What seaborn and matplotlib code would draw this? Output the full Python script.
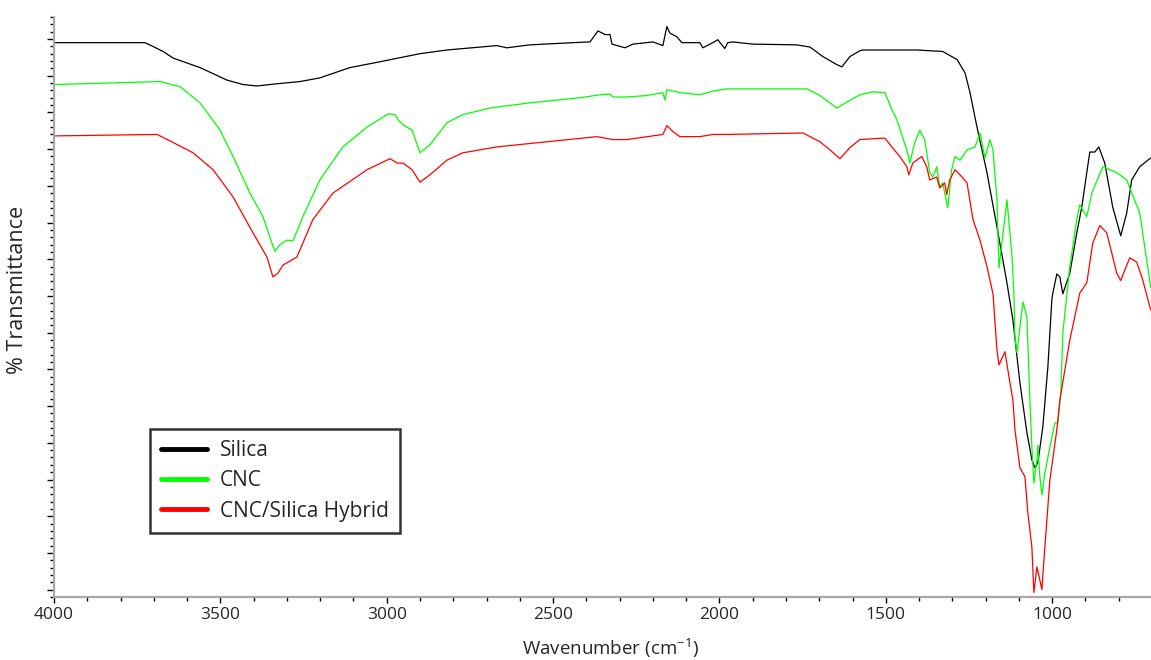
import pandas as pd
import seaborn as sns
import matplotlib.pyplot as plt
from matplotlib.ticker import MultipleLocator

# FTIR spectra (wavenumber in cm-1, transmittance in arbitrary %)
silica_wn = [3997, 3727, 3712, 3672, 3642, 3561, 3480, 3432, 3390, 3330, 3261, 3201, 3111, 3020,
             2900, 2819, 2669, 2639, 2570, 2440, 2389, 2365, 2344, 2329, 2323, 2284, 2260, 2200,
             2170, 2158, 2149, 2128, 2113, 2059, 2050, 2020, 2005, 1984, 1975, 1960, 1900, 1767,
             1728, 1689, 1647, 1632, 1608, 1578, 1569, 1407, 1329, 1286, 1262, 1247, 1226, 1196,
             1166, 1136, 1118, 1097, 1076, 1061, 1052, 1043, 1028, 1013, 1001, 998, 986, 977,
             968, 947, 926, 911, 887, 872, 860, 842, 818, 794, 776, 761, 737, 704]
silica_t = [74.5, 74.5, 74.2, 73.3, 72.4, 71.1, 69.4, 68.8, 68.6, 68.9, 69.2, 69.7, 71.1, 71.9,
            73.0, 73.5, 74.1, 73.8, 74.2, 74.5, 74.6, 76.1, 75.6, 75.6, 74.3, 73.8, 74.3, 74.6,
            74.1, 76.7, 75.8, 75.3, 74.5, 74.5, 73.8, 74.5, 74.9, 73.7, 74.5, 74.6, 74.3, 74.2,
            73.9, 72.6, 71.5, 71.2, 72.6, 73.4, 73.5, 73.5, 73.3, 72.2, 70.4, 67.7, 63.0, 56.8,
            49.4, 41.8, 36.7, 28.2, 21.4, 17.7, 16.6, 17.3, 22.2, 30.3, 39.5, 40.4, 43.0, 42.6,
            40.3, 43.1, 48.6, 52.1, 59.6, 59.6, 60.3, 58.1, 52.1, 48.2, 51.3, 55.8, 57.6, 58.8]

cnc_wn = [3997, 3681, 3621, 3561, 3501, 3462, 3411, 3372, 3345, 3336, 3321, 3300, 3282, 3252,
          3201, 3132, 3059, 2996, 2975, 2966, 2951, 2924, 2900, 2870, 2819, 2771, 2690, 2570,
          2419, 2359, 2329, 2320, 2278, 2218, 2170, 2164, 2158, 2119, 2059, 2020, 1978, 1737,
          1698, 1668, 1647, 1617, 1578, 1539, 1503, 1482, 1467, 1437, 1428, 1413, 1398, 1383,
          1368, 1359, 1347, 1338, 1329, 1317, 1314, 1302, 1292, 1277, 1256, 1232, 1217, 1202,
          1187, 1178, 1166, 1160, 1136, 1121, 1115, 1112, 1106, 1088, 1076, 1067, 1061, 1055,
          1046, 1043, 1037, 1031, 1022, 1007, 992, 983, 974, 968, 947, 926, 917, 896, 881, 848,
          806, 776, 737, 704]
cnc_t = [68.8, 69.2, 68.5, 66.3, 62.6, 59.0, 54.0, 50.8, 47.2, 46.1, 47.0, 47.6, 47.5, 50.8,
         55.8, 60.3, 63.0, 64.8, 64.7, 64.0, 63.3, 62.6, 59.5, 60.6, 63.6, 64.7, 65.6, 66.3,
         67.0, 67.4, 67.5, 67.1, 67.1, 67.3, 67.7, 66.7, 68.1, 67.7, 67.4, 67.9, 68.2, 68.2,
         67.3, 66.3, 65.6, 66.4, 67.4, 67.8, 67.7, 65.4, 64.0, 59.9, 58.1, 60.9, 62.6, 61.3,
         56.8, 56.2, 57.6, 54.9, 55.4, 52.7, 52.0, 57.2, 59.0, 58.5, 59.9, 60.3, 62.2, 58.8,
         61.3, 59.9, 53.1, 43.8, 53.1, 45.5, 40.3, 34.4, 32.3, 39.2, 37.2, 25.8, 19.4, 14.5,
         17.7, 19.7, 15.4, 12.9, 15.9, 19.4, 22.7, 22.7, 26.8, 35.0, 44.0, 50.4, 52.4, 50.8, 54.0, 57.6,
         56.8, 55.8, 51.3, 41.2]

hybrid_wn = [3997, 3690, 3642, 3582, 3522, 3462, 3402, 3360, 3342, 3327, 3312, 3270, 3222, 3162,
             3059, 2990, 2969, 2951, 2924, 2900, 2870, 2819, 2771, 2669, 2519, 2368, 2320, 2278,
             2170, 2158, 2140, 2119, 2059, 2020, 1978, 1749, 1698, 1668, 1638, 1608, 1578, 1503,
             1482, 1458, 1437, 1431, 1419, 1392, 1377, 1368, 1347, 1338, 1323, 1317, 1308, 1292,
             1271, 1256, 1238, 1217, 1196, 1178, 1166, 1160, 1142, 1127, 1118, 1112, 1097, 1082,
             1073, 1061, 1055, 1046, 1037, 1031, 1022, 1007, 986, 977, 947, 917, 896, 878, 857,
             836, 806, 794, 767, 746, 728, 704]
hybrid_t = [61.8, 62.0, 60.9, 59.5, 57.2, 53.5, 48.6, 45.3, 42.6, 43.1, 44.2, 45.3, 50.4, 54.0,
            57.2, 58.7, 58.1, 58.1, 57.2, 55.5, 56.5, 58.5, 59.5, 60.3, 61.0, 61.7, 61.3, 61.3,
            62.0, 63.2, 62.4, 61.7, 61.7, 62.0, 62.0, 62.2, 61.0, 59.9, 58.7, 60.2, 61.3, 61.5,
            60.3, 59.0, 57.6, 56.5, 58.1, 59.0, 57.6, 55.8, 56.2, 54.7, 55.4, 53.8, 55.8, 57.2,
            56.2, 55.4, 50.4, 47.6, 44.0, 40.3, 32.7, 30.6, 32.4, 28.2, 25.8, 21.8, 16.6, 15.4,
            10.4, 5.8, -0.4, 3.1, 1.3, 0.0, 5.8, 14.9, 21.8, 25.8, 34.0, 40.4, 41.8, 47.2, 49.6,
            48.6, 43.1, 42.1, 45.2, 44.6, 42.2, 38.1]

samples = ['Silica', 'CNC', 'CNC/Silica Hybrid']
colors = ['#000000', '#00ff00', '#ff0000']

df = pd.concat([
    pd.DataFrame({'wn': silica_wn, 't': silica_t, 'sample': samples[0]}),
    pd.DataFrame({'wn': cnc_wn, 't': cnc_t, 'sample': samples[1]}),
    pd.DataFrame({'wn': hybrid_wn, 't': hybrid_t, 'sample': samples[2]}),
])

sns.set_style('white')
plt.rcParams['font.family'] = ['Open Sans', 'DejaVu Sans']
plt.rcParams['mathtext.default'] = 'regular'

fig = plt.figure(figsize=(11.51, 6.60), dpi=100)
ax = fig.add_axes([0.0469, 0.0955, 0.9531, 0.8788])
sns.lineplot(data=df, x='wn', y='t', hue='sample', hue_order=samples,
             palette=dict(zip(samples, colors)), estimator=None, sort=False,
             lw=0.9, ax=ax)

ax.set_xlim(4000, 703)
ax.set_ylim(-1, 78)
ax.xaxis.set_major_locator(MultipleLocator(500))
ax.xaxis.set_minor_locator(MultipleLocator(100))
ax.yaxis.set_major_locator(MultipleLocator(5))
ax.yaxis.set_minor_locator(MultipleLocator(1))
ax.set_yticklabels([])
ax.tick_params(axis='x', which='major', direction='out', length=4, width=1, color='black',
               labelsize=12.5, pad=3, bottom=True)
ax.tick_params(axis='x', which='minor', direction='out', length=3, width=1, color='black', bottom=True)
ax.tick_params(axis='y', which='major', direction='out', length=5, width=1, color='black', left=True)
ax.tick_params(axis='y', which='minor', direction='out', length=3, width=1, color='black', left=True)

for side in ['top', 'right']:
    ax.spines[side].set_visible(False)
for side in ['left', 'bottom']:
    ax.spines[side].set_color('#a8a8a8')
    ax.spines[side].set_linewidth(1.6)

ax.set_xlabel('Wavenumber (cm$^{-1}$)', fontsize=13.5, va='center')
ax.set_ylabel('% Transmittance', fontsize=15.5)
ax.xaxis.set_label_coords(0.507, -0.088)
ax.yaxis.set_label_coords(-0.024, 0.53)

handles, labels = ax.get_legend_handles_labels()
leg = ax.legend(handles, labels, loc='lower left', bbox_to_anchor=(0.0875, 0.110),
                borderaxespad=0, frameon=True, fancybox=False, fontsize=15,
                handlelength=2.2, handletextpad=0.6, labelspacing=0.45, borderpad=0.55)
leg.get_frame().set_edgecolor('black')
leg.get_frame().set_linewidth(1.8)
for line in leg.get_lines():
    line.set_linewidth(3.5)

fig.savefig('out.png', dpi=100)
